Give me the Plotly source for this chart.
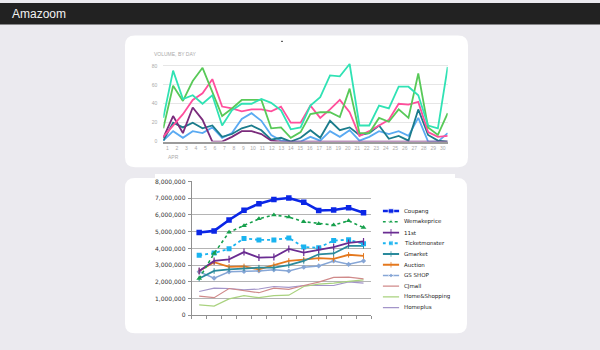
import plotly.graph_objects as go

W, H = 600, 350

# ---------------- data: top chart (volume by day, April) ----------------
days = list(range(1, 31))
turquoise = [25, 75, 45, 49, 40, 49, 17, 33, 40, 40, 45, 41, 33, 13, 15, 38, 47, 70, 69, 82,
             17, 17, 38, 35, 58, 58, 49, 17, 14, 79]
green = [14, 59, 43, 64, 78, 52, 27, 35, 44, 44, 44, 14, 15, 4, 10, 29, 31, 31, 26, 56,
         9, 9, 25, 21, 34, 25, 72, 15, 7, 30]
pink = [5, 17, 29, 44, 51, 66, 37, 35, 32, 34, 34, 32, 37, 20, 20, 38, 25, 34, 44, 31,
        6, 11, 17, 23, 40, 39, 42, 10, 5, 6]
lightblue = [1, 11, 4, 11, 9, 15, 4, 9, 24, 30, 22, 7, 1, 0, 0, 5, 1, 11, 5, 12,
             1, 5, 11, 8, 11, 6, 25, 0, 0, 9]
darkteal = [1, 20, 15, 20, 14, 17, 5, 8, 14, 17, 12, 2, 4, 0, 4, 12, 4, 22, 12, 15,
            7, 9, 17, 3, 6, 1, 34, 7, 1, 0]
purple = [4, 27, 9, 36, 23, 0, 0, 5, 11, 11, 8, 1, 0, 0, 0, 0, 0, 0, 0, 0,
          0, 0, 0, 0, 0, 0, 0, 0, 0, 0]
top_yticks = [0, 20, 40, 60, 80]

# ---------------- data: bottom chart (millions) ----------------
periods = list(range(12))
malls = ["Coupang", "Wemakeprice", "11st", "Ticketmonster", "Gmarket", "Auction",
         "GS SHOP", "CJmall", "Home&Shopping", "Homeplus"]
coupang = [4.95, 5.05, 5.70, 6.28, 6.68, 6.93, 7.02, 6.77, 6.27, 6.30, 6.43, 6.13]
wemakeprice = [2.20, 3.70, 4.97, 5.35, 5.77, 6.00, 5.88, 5.60, 5.48, 5.40, 5.65, 5.25]
st11 = [2.65, 3.25, 3.35, 3.78, 3.45, 3.48, 3.97, 3.75, 3.92, 4.08, 4.33, 4.42]
ticketmonster = [3.59, 3.72, 3.98, 4.60, 4.51, 4.51, 4.63, 4.08, 4.04, 4.47, 4.52, 4.28]
gmarket = [2.20, 2.65, 2.75, 2.80, 2.85, 2.85, 3.00, 3.25, 3.65, 3.70, 4.15, 4.15]
auction = [2.65, 3.18, 2.90, 2.92, 2.75, 3.00, 3.25, 3.33, 3.42, 3.38, 3.62, 3.55]
gsshop = [2.60, 2.22, 2.60, 2.62, 2.65, 2.72, 2.65, 2.88, 2.95, 3.25, 3.05, 3.25]
cjmall = [1.15, 1.05, 1.60, 1.47, 1.35, 1.62, 1.55, 1.78, 1.98, 2.27, 2.28, 2.18]
homeshopping = [0.62, 0.55, 0.98, 1.17, 1.05, 1.18, 1.20, 1.72, 1.86, 1.92, 2.03, 2.12]
homeplus = [1.42, 1.62, 1.60, 1.52, 1.57, 1.72, 1.67, 1.78, 1.78, 1.78, 2.00, 1.92]
bottom_ytick_vals = [0, 1, 2, 3, 4, 5, 6, 7, 8]
bottom_ytick_text = ["0", "1,000,000", "2,000,000", "3,000,000", "4,000,000",
                     "5,000,000", "6,000,000", "7,000,000", "8,000,000"]

# ---------------- helpers ----------------
def px(x):
    return x / W


def py(y):
    return 1 - y / H


def rrect(x0, y0, x1, y1, r):
    rx, ry = r / W, r / H
    X0, X1, T, B = px(x0), px(x1), py(y0), py(y1)
    return (f"M{X0+rx},{T} L{X1-rx},{T} Q{X1},{T} {X1},{T-ry} L{X1},{B+ry} "
            f"Q{X1},{B} {X1-rx},{B} L{X0+rx},{B} Q{X0},{B} {X0},{B+ry} "
            f"L{X0},{T-ry} Q{X0},{T} {X0+rx},{T} Z")


fig = go.Figure()

# ---------------- top chart traces ----------------
top_series = [
    (lightblue, "#5aaaf2"),
    (darkteal, "#1b7c8c"),
    (purple, "#7b2c7c"),
    (pink, "#ff4f9c"),
    (green, "#58c958"),
    (turquoise, "#30e2b4"),
]
for vals, col in top_series:
    fig.add_trace(go.Scatter(x=days, y=vals, mode="lines", line=dict(color=col, width=1.8),
                             xaxis="x", yaxis="y", hoverinfo="skip", showlegend=False))
# carrier trace for the label axis
fig.add_trace(go.Scatter(x=[days[0]], y=[0], mode="markers", marker=dict(opacity=0),
                         xaxis="x2", yaxis="y", hoverinfo="skip", showlegend=False))

# ---------------- bottom chart traces ----------------
bottom_series = [
    (coupang, dict(color="#0b26e6", width=2.6), dict(symbol="square", size=5.5)),
    (wemakeprice, dict(color="#17a04c", width=1.6, dash="dot"), dict(symbol="triangle-up", size=5)),
    (st11, dict(color="#6a2c92", width=1.8), dict(symbol="line-ns", size=5, line=dict(width=1.2, color="#6a2c92"))),
    (ticketmonster, dict(color="#1ab4f0", width=1.8, dash="dot"), dict(symbol="square", size=5)),
    (gmarket, dict(color="#2a8a9c", width=1.8), dict(symbol="line-ns", size=4, line=dict(width=1, color="#2a8a9c"))),
    (auction, dict(color="#e4781e", width=1.8), dict(symbol="line-ns", size=4, line=dict(width=1, color="#e4781e"))),
    (gsshop, dict(color="#86a6d6", width=1.5), dict(symbol="diamond", size=4)),
    (cjmall, dict(color="#d08a8a", width=1.2), None),
    (homeshopping, dict(color="#a9d27e", width=1.2), None),
    (homeplus, dict(color="#a395c9", width=1.2), None),
]
for vals, ln, mk in reversed(bottom_series):
    if mk is not None:
        m = dict(mk)
        m.setdefault("color", ln["color"])
        fig.add_trace(go.Scatter(x=periods, y=vals, mode="lines+markers", line=ln, marker=m,
                                 xaxis="x3", yaxis="y3", hoverinfo="skip", showlegend=False))
    else:
        fig.add_trace(go.Scatter(x=periods, y=vals, mode="lines", line=ln,
                                 xaxis="x3", yaxis="y3", hoverinfo="skip", showlegend=False))

# ---------------- custom compact legend ----------------
annotations = []
for k, (name, (vals, ln, mk)) in enumerate(zip(malls, bottom_series)):
    if mk is not None:
        m = dict(mk)
        m.setdefault("color", ln["color"])
        m["size"] = [0, mk["size"], 0]
        fig.add_trace(go.Scatter(x=[0, 0.5, 1], y=[k, k, k], mode="lines+markers", line=ln, marker=m,
                                 xaxis="x4", yaxis="y4", hoverinfo="skip", showlegend=False))
    else:
        fig.add_trace(go.Scatter(x=[0, 1], y=[k, k], mode="lines", line=ln,
                                 xaxis="x4", yaxis="y4", hoverinfo="skip", showlegend=False))
    annotations.append(dict(text=name, xref="x4", yref="y4", x=1, y=k, xanchor="left",
                            yanchor="middle", xshift=3, showarrow=False,
                            font=dict(family="DejaVu Sans", size=5.5, color="#222222")))

# ---------------- page decoration ----------------
bg = "#ebeaef"
shapes = [
    dict(type="rect", xref="paper", yref="paper", x0=0, x1=1, y0=py(22), y1=1,
         fillcolor="#222222", line=dict(width=0), layer="below"),
    dict(type="path", xref="paper", yref="paper", path=rrect(125, 33, 468, 167, 10),
         fillcolor="white", line=dict(width=0), layer="below"),
    dict(type="path", xref="paper", yref="paper", path=rrect(125, 178, 467, 336, 10),
         fillcolor="white", line=dict(width=0), layer="below"),
    dict(type="rect", xref="paper", yref="paper", x0=px(155), x1=px(455), y0=py(332), y1=py(174),
         fillcolor="white", line=dict(width=0), layer="below"),
    dict(type="line", xref="paper", yref="paper", x0=px(281), x1=px(283), y0=py(39), y1=py(39),
         line=dict(color="#444", width=1), layer="below"),
]
annotations += [
    dict(text="Amazoom", xref="paper", yref="paper", x=px(10), y=py(11), xanchor="left",
         yanchor="middle", showarrow=False,
         font=dict(family="Liberation Sans", size=12, color="#f2f2f2")),
    dict(text="VOLUME, BY DAY", xref="paper", yref="paper", x=px(151.5), y=py(52), xanchor="left",
         yanchor="middle", showarrow=False,
         font=dict(family="Liberation Sans", size=5, color="#aaaaaa")),
    dict(text="APR", xref="paper", yref="paper", x=px(165.5), y=py(156.5), xanchor="left",
         yanchor="middle", showarrow=False,
         font=dict(family="Liberation Sans", size=5, color="#aaaaaa")),
]

# top chart geometry: 0 at y=141px, 80 at y=64px
top_ppu = (141 - 64) / 80
top_ymax = 84
top_dom = [py(141), py(141 - top_ymax * top_ppu)]
x_dom_top = [px(163.3), px(447.7)]
lab_ppu = (442.7 - 167.5) / 29
lab_a = 1 - (167.5 - 163.3) / lab_ppu
lab_b = lab_a + (447.7 - 163.3) / lab_ppu

# bottom chart geometry: 0 at 317.7px, 8M at 181.7px
bot_ppu = (317.7 - 181.7) / 8
bot_ymax = 8.05
bot_dom = [py(317.7), py(317.7 - bot_ymax * bot_ppu)]

tick_font_top = dict(family="Liberation Sans", size=5, color="#aaaaaa")

fig.update_layout(
    width=W, height=H, margin=dict(l=0, r=0, t=0, b=0),
    paper_bgcolor=bg, plot_bgcolor="rgba(0,0,0,0)",
    showlegend=False,
    shapes=shapes, annotations=annotations,
    xaxis=dict(domain=x_dom_top, anchor="y", range=[1, 30], showgrid=False, zeroline=False,
               showticklabels=False, ticks="", showline=True, linecolor="#9b9b9b", linewidth=2,
               layer="above traces", fixedrange=True),
    xaxis2=dict(domain=x_dom_top, anchor="y", overlaying="x", range=[lab_a, lab_b],
                tickvals=days, ticktext=[str(d) for d in days], showgrid=False, zeroline=False,
                showline=False, ticks="", tickfont=tick_font_top, ticklabelstandoff=2,
                fixedrange=True),
    yaxis=dict(domain=top_dom, anchor="x", range=[0, top_ymax], tickvals=top_yticks,
               ticktext=[str(v) for v in top_yticks], showgrid=True, gridcolor="#e6e6e6",
               gridwidth=1, zeroline=False, showline=False, ticks="", tickfont=tick_font_top,
               ticklabelstandoff=5, fixedrange=True),
    xaxis3=dict(domain=[px(191.7), px(371)], anchor="y3", range=[-0.5, 11.5],
                tickvals=[i + 0.5 for i in range(-1, 12)], ticks="outside", ticklen=3,
                tickcolor="#909090", showticklabels=False, showgrid=False, zeroline=False,
                showline=True, linecolor="#909090", linewidth=1, fixedrange=True),
    yaxis3=dict(domain=bot_dom, anchor="x3", range=[0, bot_ymax], tickvals=bottom_ytick_vals,
                ticktext=bottom_ytick_text, showgrid=True, gridcolor="#b4b4b4", gridwidth=1,
                zeroline=False, showline=True, linecolor="#909090", linewidth=1,
                ticks="outside", ticklen=3, tickcolor="#909090",
                tickfont=dict(family="DejaVu Sans", size=6, color="#333333"),
                ticklabelstandoff=1, fixedrange=True),
    xaxis4=dict(domain=[px(382.7), px(399.3)], anchor="y4", range=[0, 1], visible=False,
                fixedrange=True),
    yaxis4=dict(domain=[py(310 + 5.46), py(211.7 - 5.46)], anchor="x4", range=[9.5, -0.5],
                visible=False, fixedrange=True),
)

fig.write_html("out.html")
